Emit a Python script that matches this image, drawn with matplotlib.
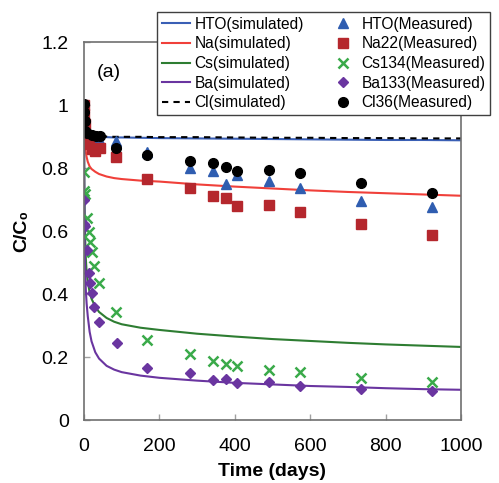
import numpy as np
import matplotlib
matplotlib.use("Agg")
import matplotlib.pyplot as plt

plt.rcParams['font.family'] = ['Liberation Sans', 'DejaVu Sans']

# simulated curves
t_sim = [0, 0.5, 1, 2, 3, 5, 7, 10, 15, 20, 30, 40, 60, 80, 100, 150, 200,
         300, 400, 500, 600, 700, 800, 900, 1000]
hto_sim = [1.0, 0.95, 0.93, 0.915, 0.908, 0.903, 0.901, 0.9, 0.9, 0.899, 0.899, 0.898,
           0.898, 0.897, 0.897, 0.896, 0.895, 0.894, 0.893, 0.892, 0.891, 0.890,
           0.889, 0.889, 0.888]
na_sim = [1.0, 0.95, 0.92, 0.89, 0.87, 0.85, 0.835, 0.82, 0.805, 0.797, 0.788, 0.781,
          0.773, 0.768, 0.765, 0.76, 0.757, 0.748, 0.741, 0.735, 0.729, 0.724,
          0.72, 0.716, 0.712]
cs_sim = [1.0, 0.85, 0.75, 0.64, 0.58, 0.51, 0.47, 0.44, 0.405, 0.385, 0.36, 0.343,
          0.324, 0.312, 0.304, 0.293, 0.286, 0.274, 0.265, 0.257, 0.251, 0.245,
          0.24, 0.236, 0.232]
ba_sim = [1.0, 0.8, 0.68, 0.55, 0.49, 0.41, 0.37, 0.33, 0.28, 0.25, 0.215, 0.195,
          0.172, 0.16, 0.152, 0.141, 0.134, 0.125, 0.118, 0.113, 0.108, 0.105,
          0.101, 0.098, 0.096]
cl_sim = [1.0, 0.95, 0.93, 0.915, 0.908, 0.904, 0.902, 0.901, 0.9, 0.9, 0.9, 0.9,
          0.9, 0.899, 0.899, 0.899, 0.898, 0.898, 0.897, 0.896, 0.896, 0.895,
          0.895, 0.894, 0.894]

# measured
t_hto = [0.5, 1, 2, 3, 7, 14, 21, 28, 42, 84, 168, 280, 343, 377, 406, 490, 574, 735, 924]
hto_meas = [1.0, 0.97, 0.93, 0.9, 0.895, 0.89, 0.89, 0.888, 0.887, 0.887, 0.85, 0.80,
            0.79, 0.749, 0.778, 0.758, 0.736, 0.696, 0.677]
t_na = [0.5, 1, 2, 3, 7, 14, 21, 28, 42, 84, 168, 280, 343, 377, 406, 490, 574, 735, 924]
na_meas = [1.0, 0.97, 0.94, 0.9, 0.89, 0.875, 0.86, 0.855, 0.865, 0.834, 0.765, 0.737,
           0.71, 0.705, 0.679, 0.684, 0.659, 0.621, 0.586]
t_cs = [0.5, 1, 2, 7, 14, 17, 21, 27, 40, 84, 168, 280, 343, 377, 406, 490, 574, 735, 924]
cs_meas = [0.788, 0.728, 0.717, 0.641, 0.596, 0.564, 0.534, 0.49, 0.434, 0.344, 0.255,
           0.21, 0.188, 0.178, 0.17, 0.159, 0.151, 0.133, 0.12]
t_ba = [0.5, 1, 2, 7, 14, 16, 20, 27, 41, 87, 168, 280, 343, 377, 406, 490, 574, 735, 924]
ba_meas = [0.698, 0.622, 0.615, 0.541, 0.467, 0.434, 0.402, 0.358, 0.312, 0.243, 0.165,
           0.149, 0.128, 0.13, 0.117, 0.122, 0.109, 0.1, 0.093]
t_cl = [0.5, 1, 2, 3, 7, 20, 32, 43, 84, 168, 280, 343, 377, 406, 490, 574, 735, 924]
cl_meas = [1.003, 0.977, 0.95, 0.918, 0.91, 0.906, 0.903, 0.903, 0.863, 0.842, 0.823,
           0.816, 0.802, 0.79, 0.795, 0.783, 0.751, 0.72]

fig = plt.figure(figsize=(4.99, 4.83), dpi=100)
ax = fig.add_axes([0.1683, 0.1304, 0.7555, 0.7826])

ax.plot(t_sim, hto_sim, color='#3A5FB5', lw=1.5, label='HTO(simulated)')
ax.plot(t_sim, na_sim, color='#F0403A', lw=1.5, label='Na(simulated)')
ax.plot(t_sim, cs_sim, color='#2E7D32', lw=1.5, label='Cs(simulated)')
ax.plot(t_sim, ba_sim, color='#6A35A0', lw=1.5, label='Ba(simulated)')
ax.plot(t_sim, cl_sim, color='black', lw=1.5, ls=(0, (3, 2.5)), label='Cl(simulated)')

ax.plot(t_hto, hto_meas, '^', color='#2F5DB0', ms=7, ls='none', label='HTO(Measured)')
ax.plot(t_na, na_meas, 's', color='#B5272D', ms=6.5, ls='none', label='Na22(Measured)')
ax.plot(t_cs, cs_meas, 'x', color='#3AAA4A', ms=7.5, mew=1.8, ls='none', label='Cs134(Measured)')
ax.plot(t_ba, ba_meas, 'D', color='#6A35A0', ms=5.5, ls='none', label='Ba133(Measured)')
ax.plot(t_cl, cl_meas, 'o', color='black', ms=7, ls='none', label='Cl36(Measured)')

ax.set_xlim(0, 1000)
ax.set_ylim(0, 1.2)
ax.set_xticks([0, 200, 400, 600, 800, 1000])
ax.set_yticks([0, 0.2, 0.4, 0.6, 0.8, 1.0, 1.2])
ax.set_yticklabels(['0', '0.2', '0.4', '0.6', '0.8', '1', '1.2'])
ax.tick_params(direction='in', length=4, width=1, color='#A0A0A0', labelsize=14)
ax.tick_params(axis='x', pad=13)
ax.tick_params(axis='y', pad=11)
for s in ax.spines.values():
    s.set_color('#707070')
    s.set_linewidth(1.2)

ax.set_xlabel('Time (days)', fontsize=14, fontweight='bold', labelpad=6)
ax.set_ylabel('C/C₀', fontsize=14, fontweight='bold', labelpad=8)

ax.text(0.035, 0.92, '(a)', transform=ax.transAxes, fontsize=14, va='center')

leg = ax.legend(ncol=2, loc='upper left', bbox_to_anchor=(157 / 499, 1 - 12 / 483),
                bbox_transform=fig.transFigure, fontsize=11.2, frameon=True, fancybox=False,
                handlelength=1.8, handletextpad=0.3, columnspacing=1.6, labelspacing=0.3,
                borderpad=0.3, borderaxespad=0)
leg.get_frame().set_edgecolor('#404040')
leg.get_frame().set_linewidth(1.0)
leg.get_frame().set_alpha(1)

fig.savefig('out.png', dpi=100)
